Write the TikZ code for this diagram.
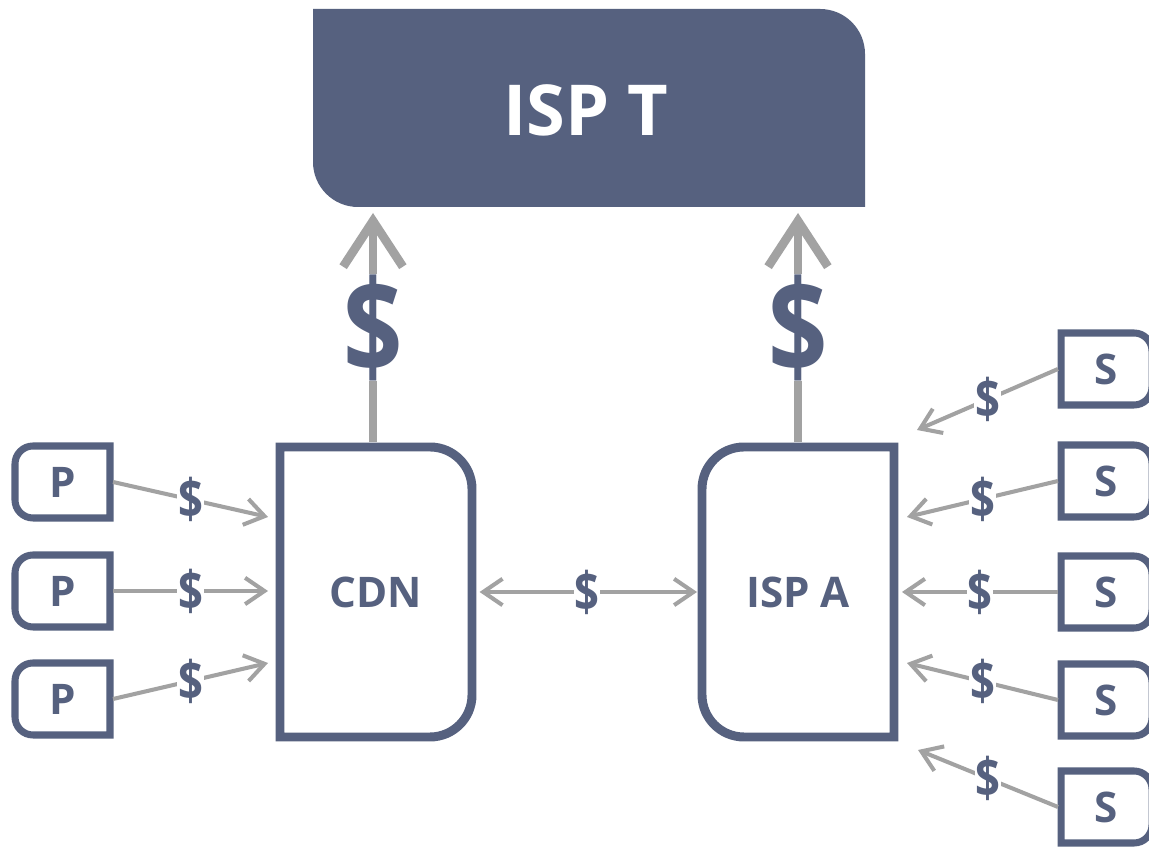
\documentclass[tikz,border=0pt]{standalone}
\usepackage{fontspec}
\setmainfont{Open Sans}
\newfontfamily\dollarfont[FakeStretch=0.8]{Open Sans Bold}
\usetikzlibrary{arrows.meta,calc}
\definecolor{navy}{HTML}{56617F}
\definecolor{arrowgray}{HTML}{A2A2A2}
\begin{document}
\begin{tikzpicture}[x=0.02cm,y=0.02cm,
  lbl/.style={font=\fontsize{24}{28}\selectfont\bfseries, text=navy, inner sep=0pt, outer sep=0pt, draw=none},
  boxline/.style={draw=navy, line width=5.1pt},
  smallbox/.style={draw=navy, line width=4pt},
  arr/.style={draw=arrowgray, line width=2.3pt, -{Straight Barb[length=11pt,width=15pt]}},
  dblarr/.style={draw=arrowgray, line width=2.3pt, {Straight Barb[length=11pt,width=15pt]}-{Straight Barb[length=11pt,width=15pt]}},
  bigarr/.style={draw=arrowgray, line width=5pt, -{Straight Barb[length=26pt,width=34pt]}},
  dollar/.style={fill=white, text=navy, font=\dollarfont\fontsize{31}{36}\selectfont, inner xsep=0.5pt, inner ysep=0pt},
  bigdollar/.style={fill=white, text=navy, font=\dollarfont\fontsize{74}{84}\selectfont, inner xsep=0.5pt, inner ysep=0pt},
]
\fill[white] (0,0) rectangle (1149,847);
\useasboundingbox (0,0) rectangle (1149,847);

% ISP T
\fill[navy] (313,838) -- (820,838) arc[start angle=90,end angle=0,radius=45] -- (865,640) -- (358,640) arc[start angle=270,end angle=180,radius=45] -- cycle;
\node[lbl, text=white, font=\fontsize{40}{48}\selectfont\bfseries, minimum width=11.04cm, minimum height=3.96cm] (ispt) at (586,737) {ISP T};

% CDN
\draw[boxline] (280,400) -- (430,400) arc[start angle=90,end angle=0,radius=42] -- (472,152) arc[start angle=0,end angle=-90,radius=42] -- (280,110) -- cycle;
\node[lbl, minimum width=4.04cm, minimum height=6cm] (cdn) at (376,255) {CDN};

% ISP A
\draw[boxline] (894,400) -- (744,400) arc[start angle=90,end angle=180,radius=42] -- (702,152) arc[start angle=180,end angle=270,radius=42] -- (894,110) -- cycle;
\node[lbl, minimum width=4.04cm, minimum height=6cm] (ispa) at (798,255) {ISP A};

% P boxes
\foreach \i/\c in {1/365,2/256,3/148} {
  \draw[smallbox] (110,\c+36) -- (33,\c+36) arc[start angle=90,end angle=180,radius=18] -- (15,\c-18) arc[start angle=180,end angle=270,radius=18] -- (110,\c-36) -- cycle;
  \node[lbl, minimum width=2.02cm, minimum height=1.56cm] (p\i) at (62.5,\c) {P};
}

% S boxes
\foreach \i/\c in {1/478,2/366,3/255,4/147,5/40} {
  \draw[smallbox] (1061,\c+36) -- (1134,\c+36) arc[start angle=90,end angle=0,radius=18] -- (1152,\c-18) arc[start angle=0,end angle=-90,radius=18] -- (1061,\c-36) -- cycle;
  \node[lbl, minimum width=1.94cm, minimum height=1.56cm] (s\i) at (1106.5,\c) {S};
}

% arrow tips
\coordinate (cp1) at (268,330);
\coordinate (cp2) at (268,256);
\coordinate (cp3) at (268,184);
\coordinate (cs1) at (917,417);
\coordinate (cs2) at (907,330);
\coordinate (cs3) at (902,255);
\coordinate (cs4) at (907,184);
\coordinate (cs5) at (918,97);
\coordinate (t1) at (373,634);
\coordinate (t2) at (798,634);

% P -> CDN
\foreach \i in {1,2,3} {
  \draw[arr] (p\i.east) -- node[dollar]{\$} (cp\i);
}
% S -> ISP A
\foreach \i in {1,2,3,4,5} {
  \draw[arr] (s\i.west) -- node[dollar]{\$} (cs\i);
}
% CDN <-> ISP A
\draw[dblarr, shorten <=1.5pt] (cdn.east) -- node[dollar]{\$} (ispa.west);
% up to ISP T
\draw[bigarr] (t1 |- cdn.north) -- node[bigdollar]{\$} (t1);
\draw[bigarr] (ispa.north) -- node[bigdollar]{\$} (t2);
\end{tikzpicture}
\end{document}
